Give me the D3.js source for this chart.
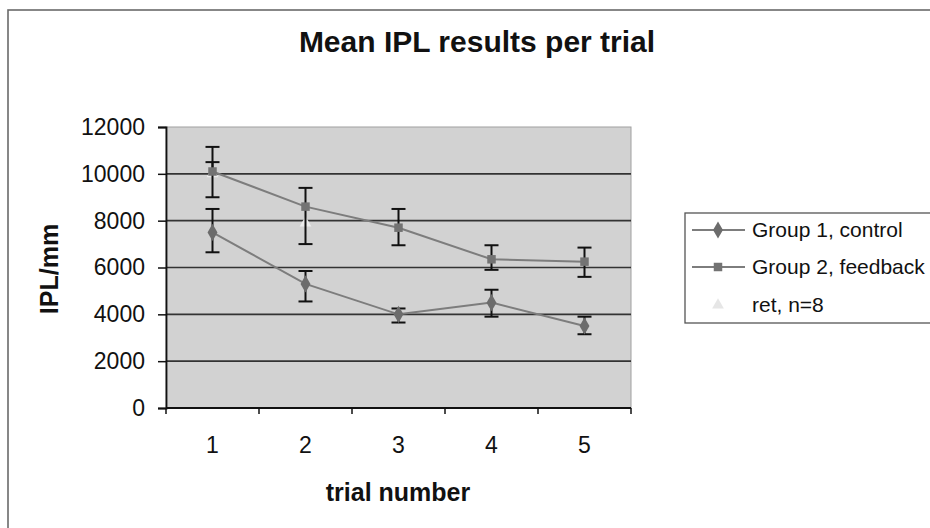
<!DOCTYPE html>
<html>
<head>
<meta charset="utf-8">
<script src="https://cdn.jsdelivr.net/npm/d3@7"></script>
<style>
  html, body { margin: 0; padding: 0; background: #fff; }
  svg { display: block; font-family: "Liberation Sans", Arial, sans-serif; }
</style>
</head>
<body>
<svg id="chart" width="930" height="528"></svg>
<script>
// ---- data ----
const trials = ["1", "2", "3", "4", "5"];
const yTicks = [0, 2000, 4000, 6000, 8000, 10000, 12000];
const controlMean = [7500, 5300, 4000, 4500, 3500];
const controlLow  = [6650, 4550, 3650, 3900, 3150];
const controlHigh = [8500, 5850, 4250, 5050, 3900];
const feedbackMean = [10100, 8600, 7700, 6350, 6250];
const feedbackLow  = [9000, 7000, 6950, 5900, 5600];
const feedbackHigh = [11150, 9400, 8500, 6950, 6850];
const retMean = [10000, 7900, null, null, null];
const retHigh = [10500, null, null, null, null];
const seriesNames = ["Group 1, control", "Group 2, feedback", "ret, n=8"];
const titleText = "Mean IPL results per trial";
const xTitle = "trial number";
const yTitle = "IPL/mm";

// ---- layout ----
const svg = d3.select("#chart");
const plot = { left: 166, right: 631, top: 127, bottom: 408 };

const x = d3.scaleBand().domain(trials).range([plot.left, plot.right]);
const y = d3.scaleLinear().domain([0, 12000]).range([plot.bottom, plot.top]);

// outer border
svg.append("rect").attr("x", 8).attr("y", 10).attr("width", 940).attr("height", 540)
  .attr("fill", "#fff").attr("stroke", "#6a6a6a").attr("stroke-width", 1.6);

// title
svg.append("text").attr("x", 477).attr("y", 52).attr("text-anchor", "middle")
  .attr("font-size", 30).attr("font-weight", "bold").attr("fill", "#111")
  .text(titleText);

// plot background
svg.append("rect").attr("x", plot.left).attr("y", plot.top)
  .attr("width", plot.right - plot.left).attr("height", plot.bottom - plot.top)
  .attr("fill", "#d2d2d2").attr("stroke", "#a0a0a0").attr("stroke-width", 1);

// gridlines
svg.append("g").selectAll("line").data(yTicks.filter(d => d > 0 && d < 12000)).join("line")
  .attr("x1", plot.left).attr("x2", plot.right)
  .attr("y1", d => y(d)).attr("y2", d => y(d))
  .attr("stroke", "#333").attr("stroke-width", 1.6);

// y axis
const yAxis = svg.append("g").attr("transform", `translate(${plot.left},0)`)
  .call(d3.axisLeft(y).tickValues(yTicks).tickSize(8).tickPadding(13).tickFormat(d3.format("d")));
yAxis.select(".domain").attr("stroke", "#111").attr("stroke-width", 1.8);
yAxis.selectAll(".tick line").attr("stroke", "#111").attr("stroke-width", 1.5);
yAxis.selectAll(".tick text").attr("font-size", 23).attr("fill", "#111")
  .attr("font-family", "Liberation Sans, Arial, sans-serif");

// x axis (category boundaries as ticks)
const xAxisG = svg.append("g").attr("transform", `translate(0,${plot.bottom})`);
xAxisG.append("line").attr("x1", plot.left).attr("x2", plot.right).attr("y1", 0).attr("y2", 0)
  .attr("stroke", "#111").attr("stroke-width", 1.8);
const bounds = trials.map(t => x(t)).concat([x(trials[trials.length - 1]) + x.bandwidth()]);
xAxisG.selectAll("line.tk").data(bounds).join("line").attr("class", "tk")
  .attr("x1", d => d).attr("x2", d => d).attr("y1", 0).attr("y2", 6)
  .attr("stroke", "#111").attr("stroke-width", 1.5);
xAxisG.selectAll("text").data(trials).join("text")
  .attr("x", d => x(d) + x.bandwidth() / 2).attr("y", 45)
  .attr("text-anchor", "middle").attr("font-size", 23).attr("fill", "#111")
  .text(d => d);

// axis titles
svg.append("text").attr("x", 398).attr("y", 501).attr("text-anchor", "middle")
  .attr("font-size", 25).attr("font-weight", "bold").attr("fill", "#111").text(xTitle);
svg.append("text").attr("transform", "translate(58,269) rotate(-90)").attr("text-anchor", "middle")
  .attr("font-size", 25).attr("font-weight", "bold").attr("fill", "#111").text(yTitle);

const cx = i => x(trials[i]) + x.bandwidth() / 2;
const lineColor = "#7d7d7d";

function drawErrors(mean, low, high) {
  const g = svg.append("g").attr("stroke", "#111").attr("stroke-width", 2);
  mean.forEach((m, i) => {
    if (m == null) return;
    const lo = low ? low[i] : null, hi = high ? high[i] : null;
    const xc = cx(i);
    if (hi != null) {
      g.append("line").attr("x1", xc).attr("x2", xc).attr("y1", y(m)).attr("y2", y(hi));
      g.append("line").attr("x1", xc - 7).attr("x2", xc + 7).attr("y1", y(hi)).attr("y2", y(hi));
    }
    if (lo != null) {
      g.append("line").attr("x1", xc).attr("x2", xc).attr("y1", y(m)).attr("y2", y(lo));
      g.append("line").attr("x1", xc - 7).attr("x2", xc + 7).attr("y1", y(lo)).attr("y2", y(lo));
    }
  });
}

function drawLine(mean) {
  const line = d3.line().defined(d => d.v != null).x(d => cx(d.i)).y(d => y(d.v));
  svg.append("path").datum(mean.map((v, i) => ({ v, i })))
    .attr("d", line).attr("fill", "none").attr("stroke", lineColor).attr("stroke-width", 2);
}

const diamond = d3.symbol().type(d3.symbolDiamond).size(85);
const square = d3.symbol().type(d3.symbolSquare).size(72);
const tri = d3.symbol().type(d3.symbolTriangle).size(60);

// ret series first (sits underneath)
drawErrors(retMean, null, retHigh);
svg.append("g").selectAll("path").data(retMean.map((v, i) => ({ v, i })).filter(d => d.v != null)).join("path")
  .attr("transform", d => `translate(${cx(d.i)},${y(d.v)})`).attr("d", tri).attr("fill", "#ececec");

drawErrors(controlMean, controlLow, controlHigh);
drawErrors(feedbackMean, feedbackLow, feedbackHigh);
drawLine(controlMean);
drawLine(feedbackMean);

svg.append("g").selectAll("path").data(controlMean.map((v, i) => ({ v, i })).filter(d => d.v != null)).join("path")
  .attr("transform", d => `translate(${cx(d.i)},${y(d.v)})`).attr("d", diamond).attr("fill", "#6c6c6c");
svg.append("g").selectAll("path").data(feedbackMean.map((v, i) => ({ v, i })).filter(d => d.v != null)).join("path")
  .attr("transform", d => `translate(${cx(d.i)},${y(d.v)})`).attr("d", square).attr("fill", "#737373");

// legend
const lg = svg.append("g");
lg.append("rect").attr("x", 685).attr("y", 213).attr("width", 260).attr("height", 110)
  .attr("fill", "#fff").attr("stroke", "#555").attr("stroke-width", 1.3);
const rows = [230, 267, 305];
const symbols = [diamond, square, tri];
const fills = ["#6c6c6c", "#737373", "#e6e6e6"];
seriesNames.forEach((name, k) => {
  if (k < 2) {
    lg.append("line").attr("x1", 692).attr("x2", 745).attr("y1", rows[k]).attr("y2", rows[k])
      .attr("stroke", lineColor).attr("stroke-width", 2);
  }
  lg.append("path").attr("transform", `translate(718,${rows[k]})`).attr("d", symbols[k]).attr("fill", fills[k]);
  lg.append("text").attr("x", 752).attr("y", rows[k] + 7).attr("font-size", 21).attr("fill", "#111").text(name);
});
</script>
</body>
</html>
